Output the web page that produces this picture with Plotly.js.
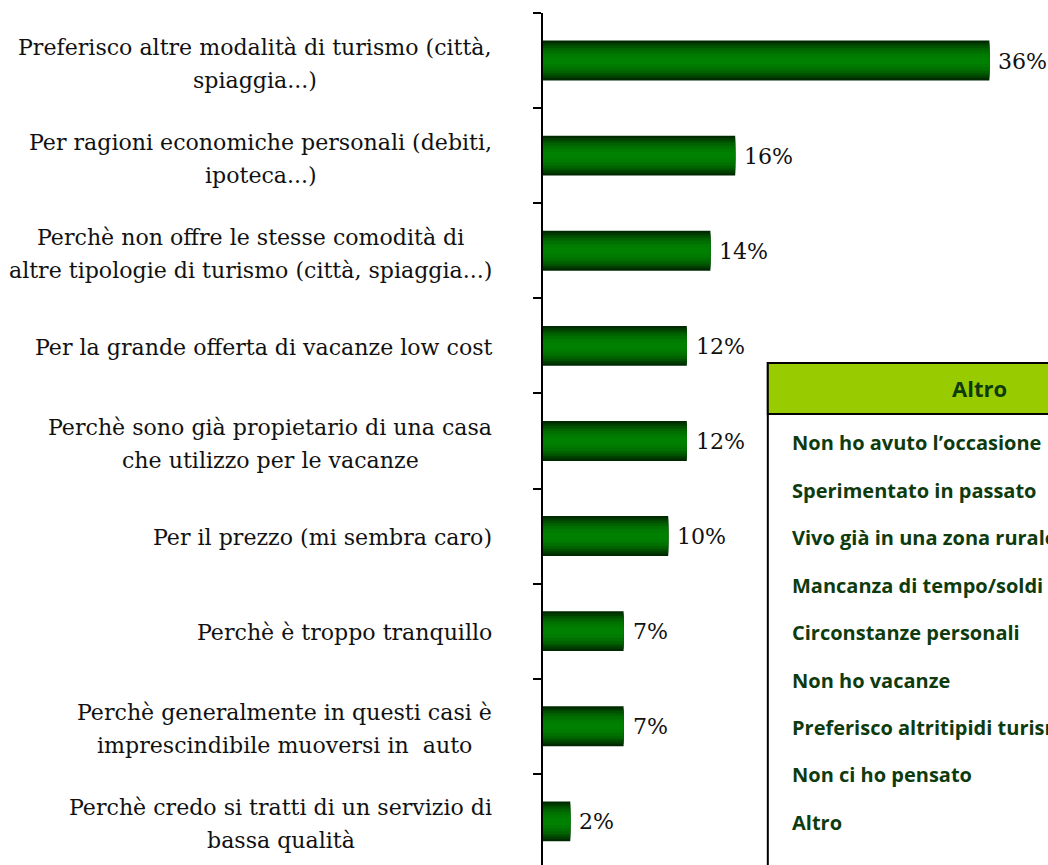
<!DOCTYPE html>
<html><head><meta charset="utf-8">
<script src="https://cdn.plot.ly/plotly-3.0.1.min.js"></script>
<style>html,body{margin:0;padding:0;background:#fff;overflow:hidden}</style>
</head><body><div id="chart" style="width:1048px;height:865px"></div>
<script>
const categories = [
  "Preferisco altre modalità di turismo (città,<br>spiaggia...)",
  "Per ragioni economiche personali (debiti,<br>ipoteca...)",
  "Perchè non offre le stesse comodità di<br>altre tipologie di turismo (città, spiaggia...)",
  "Per la grande offerta di vacanze low cost",
  "Perchè sono già propietario di una casa<br>che utilizzo per le vacanze",
  "Per il prezzo (mi sembra caro)",
  "Perchè è troppo tranquillo",
  "Perchè generalmente in questi casi è<br>imprescindibile muoversi in  auto",
  "Perchè credo si tratti di un servizio di<br>bassa qualità"
];
const values = [36, 15.5, 13.5, 11.6, 11.6, 10.1, 6.5, 6.5, 2.2];
const valueLabels = values.map(v => Math.round(v) + '%');
const tableHeader = 'Altro';
const tableRows = [
  "Non ho avuto l’occasione",
  "Sperimentato in passato",
  "Vivo già in una zona rurale",
  "Mancanza di tempo/soldi",
  "Circonstanze personali",
  "Non ho vacanze",
  "Preferisco altritipidi turismo",
  "Non ci ho pensato",
  "Altro"
];

const W = 1048, H = 865, L = 543, T = 13;
const PX_PER_PCT = 12.41, BAND = 95.1;
const plotW = 40 * PX_PER_PCT;
const R = W - L - plotW;
const plotH = H - T;
const yRange = [-0.5 + plotH / BAND, -0.5];
const px2x = p => (p - L) / plotW;
const py2y = p => 1 - (p - T) / plotH;

const SERIF = '"DejaVu Serif", serif';
const SANS = '"Open Sans", sans-serif';
const TXT_GREEN = '#0e3b0e';

// fit label font size so the widest label line is ~474px wide
const ctx = document.createElement('canvas').getContext('2d');
ctx.font = '20px ' + SERIF;
const refW = ctx.measureText(categories[0].split('<br>')[0]).width;
const LBL_SIZE = Math.round(20 * 474 / refW * 10) / 10;
ctx.font = LBL_SIZE + 'px ' + SERIF;

const layers = [[1.0,'#002a00'],[0.88,'#003f00'],[0.76,'#005200'],[0.64,'#006300'],[0.5,'#007000'],[0.34,'#007a00'],[0.18,'#008000']];
const traces = layers.map(([f, c]) => ({
  type: 'bar', orientation: 'h', x: values, y: categories,
  width: 0.42 * f, marker: {color: c, line: {width: 0}},
  hoverinfo: 'skip', showlegend: false
}));

const annotations = [];
categories.forEach((cat, i) => {
  const lines = cat.split('<br>');
  const bw = Math.max(...lines.map(s => ctx.measureText(s).width));
  const cx = 492 - bw / 2;
  const offs = lines.length === 1 ? [1] : [-14, 19];
  lines.forEach((s, j) => {
    annotations.push({xref: 'paper', x: px2x(cx), xanchor: 'center', yref: 'y', y: cat, yanchor: 'middle',
      yshift: -offs[j], text: s, showarrow: false, font: {family: SERIF, size: LBL_SIZE, color: '#111'}});
  });
  annotations.push({xref: 'x', x: values[i], xanchor: 'left', xshift: 7, yref: 'y', y: cat, yanchor: 'middle',
    text: valueLabels[i], showarrow: false, font: {family: SERIF, size: LBL_SIZE, color: '#111'}});
});

annotations.push({xref: 'paper', x: px2x(980), xanchor: 'center', yref: 'paper', y: py2y(388), yanchor: 'middle',
  text: tableHeader, showarrow: false, font: {family: SANS, size: 22, weight: 700, color: TXT_GREEN}});
tableRows.forEach((r, i) => {
  annotations.push({xref: 'paper', x: px2x(790), xanchor: 'left', yref: 'paper', y: py2y(443 + i * 47.4), yanchor: 'middle',
    text: r, showarrow: false, font: {family: SANS, size: 20, weight: 700, color: TXT_GREEN}});
});

const shapes = [
  {type: 'rect', xref: 'paper', yref: 'paper', x0: px2x(768), x1: px2x(1300), y0: py2y(363), y1: py2y(920),
   line: {color: '#000', width: 2}, fillcolor: '#fff', layer: 'above'},
  {type: 'rect', xref: 'paper', yref: 'paper', x0: px2x(768), x1: px2x(1300), y0: py2y(363), y1: py2y(414),
   line: {color: '#000', width: 2}, fillcolor: '#99cc00', layer: 'above'}
];

const layout = {
  width: W, height: H,
  margin: {l: L, r: R, t: T, b: 0, pad: 0},
  paper_bgcolor: '#fff', plot_bgcolor: '#fff',
  barmode: 'overlay',
  showlegend: false,
  xaxis: {range: [0, 40], visible: false, fixedrange: true},
  yaxis: {type: 'category', range: yRange, showticklabels: false, ticks: 'outside', ticklen: 8, tickwidth: 2,
    tickcolor: '#000', tickson: 'boundaries', showline: true, linewidth: 2, linecolor: '#000',
    showgrid: false, zeroline: false, fixedrange: true},
  annotations: annotations,
  shapes: shapes
};

Plotly.newPlot('chart', traces, layout, {displayModeBar: false, staticPlot: true});
</script>
</body></html>
